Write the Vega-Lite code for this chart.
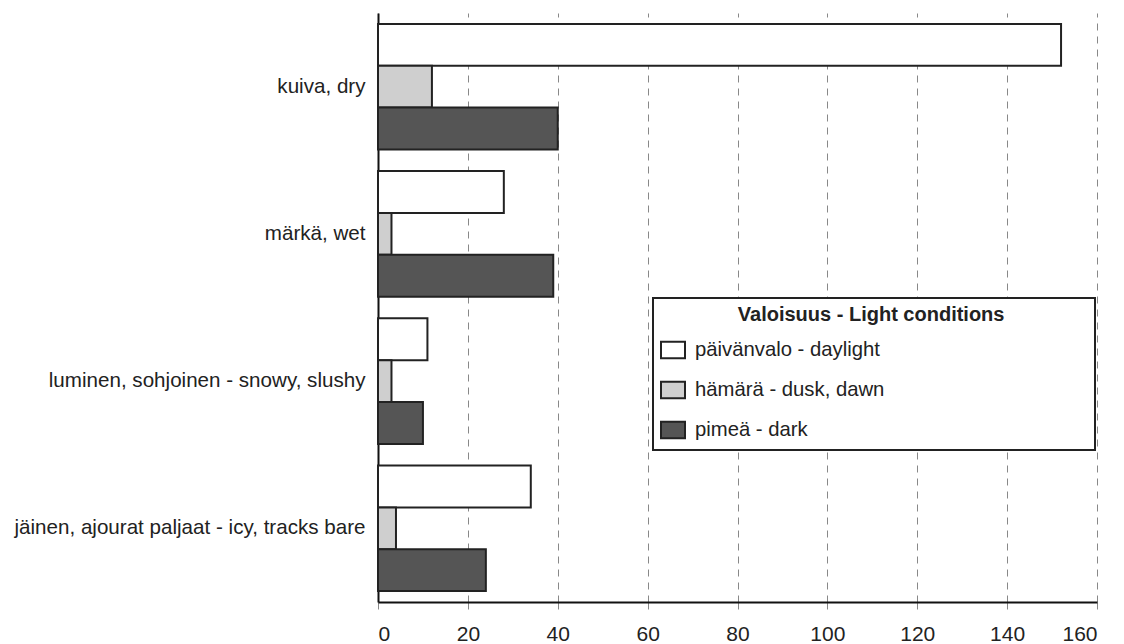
{
  "$schema": "https://vega.github.io/schema/vega-lite/v6.json",
  "width": 719,
  "height": 589,
  "autosize": "none",
  "padding": {"left": 378, "top": 13, "right": 27, "bottom": 42},
  "background": "white",
  "config": {
    "font": "Liberation Sans",
    "view": {"stroke": null},
    "legend": {"strokeWidth": 2}
  },
  "data": {
    "values": [
      {"surface": "kuiva, dry", "light": "päivänvalo - daylight", "value": 152},
      {"surface": "kuiva, dry", "light": "hämärä - dusk, dawn", "value": 12},
      {"surface": "kuiva, dry", "light": "pimeä - dark", "value": 40},
      {"surface": "märkä, wet", "light": "päivänvalo - daylight", "value": 28},
      {"surface": "märkä, wet", "light": "hämärä - dusk, dawn", "value": 3},
      {"surface": "märkä, wet", "light": "pimeä - dark", "value": 39},
      {"surface": "luminen, sohjoinen - snowy, slushy", "light": "päivänvalo - daylight", "value": 11},
      {"surface": "luminen, sohjoinen - snowy, slushy", "light": "hämärä - dusk, dawn", "value": 3},
      {"surface": "luminen, sohjoinen - snowy, slushy", "light": "pimeä - dark", "value": 10},
      {"surface": "jäinen, ajourat paljaat - icy, tracks bare", "light": "päivänvalo - daylight", "value": 34},
      {"surface": "jäinen, ajourat paljaat - icy, tracks bare", "light": "hämärä - dusk, dawn", "value": 4},
      {"surface": "jäinen, ajourat paljaat - icy, tracks bare", "light": "pimeä - dark", "value": 24}
    ]
  },
  "mark": {"type": "bar", "stroke": "#222", "strokeWidth": 2},
  "encoding": {
    "y": {
      "field": "surface",
      "type": "nominal",
      "sort": ["kuiva, dry", "märkä, wet", "luminen, sohjoinen - snowy, slushy", "jäinen, ajourat paljaat - icy, tracks bare"],
      "scale": {"paddingInner": 0.147, "paddingOuter": 0.074},
      "axis": {
        "title": null,
        "ticks": false,
        "grid": false,
        "domain": true,
        "domainColor": "#111",
        "domainWidth": 2,
        "labelFontSize": 20.6,
        "labelColor": "#222",
        "labelPadding": 13,
        "labelLimit": 400
      }
    },
    "yOffset": {
      "field": "light",
      "type": "nominal",
      "sort": ["päivänvalo - daylight", "hämärä - dusk, dawn", "pimeä - dark"],
      "scale": {"paddingInner": 0, "paddingOuter": 0}
    },
    "x": {
      "field": "value",
      "type": "quantitative",
      "scale": {"domain": [0, 160], "nice": false},
      "axis": {
        "title": null,
        "values": [0, 20, 40, 60, 80, 100, 120, 140, 160],
        "grid": true,
        "gridColor": "#888",
        "gridDash": [7, 6],
        "gridWidth": 1,
        "ticks": true,
        "tickColor": "#888",
        "tickDash": [7, 6],
        "tickSize": 10,
        "domainColor": "#111",
        "domainWidth": 2,
        "labelFontSize": 21,
        "labelColor": "#222",
        "labelPadding": 11
      }
    },
    "fill": {
      "field": "light",
      "type": "nominal",
      "sort": ["päivänvalo - daylight", "hämärä - dusk, dawn", "pimeä - dark"],
      "scale": {
        "domain": ["päivänvalo - daylight", "hämärä - dusk, dawn", "pimeä - dark"],
        "range": ["#ffffff", "#cfcfcf", "#555555"]
      },
      "legend": {
        "title": "\u200b\u00a0\u00a0\u00a0\u00a0\u00a0\u00a0\u00a0\u00a0\u00a0\u00a0\u00a0\u00a0\u00a0\u00a0Valoisuus - Light conditions\u00a0\u00a0\u00a0\u00a0\u00a0\u00a0\u00a0\u00a0\u00a0\u00a0\u00a0\u00a0\u00a0\u00a0\u00a0\u200b",
        "orient": "none",
        "legendX": 275,
        "legendY": 285,
        "titleFontSize": 20,
        "titleFontWeight": "bold",
        "titleColor": "#222",
        "titleAnchor": "start",
        "titleAlign": "left",
        "titlePadding": 12,
        "titleLimit": 600,
        "labelFontSize": 20.3,
        "labelColor": "#222",
        "labelOffset": 9,
        "labelLimit": 400,
        "symbolType": "M-1,-0.68H1V0.68H-1Z",
        "symbolSize": 576,
        "symbolStrokeColor": "#222",
        "symbolStrokeWidth": 2,
        "rowPadding": 14,
        "padding": 7,
        "strokeColor": "#222",
        "fillColor": "white"
      }
    }
  }
}
